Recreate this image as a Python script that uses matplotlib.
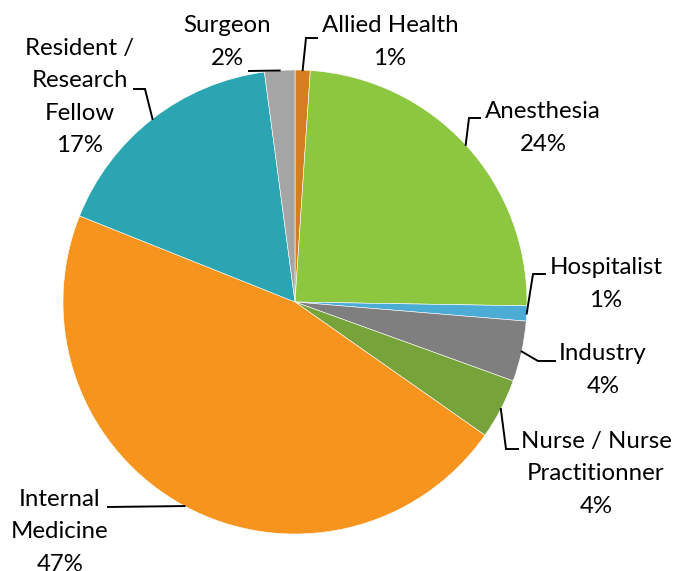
import matplotlib.pyplot as plt
import numpy as np

# respondents by profession (clockwise from 12 o'clock)
categories = ["Allied Health", "Anesthesia", "Hospitalist", "Industry",
              "Nurse / Nurse\nPractitionner", "Internal\nMedicine",
              "Resident /\nResearch\nFellow", "Surgeon"]
counts = [1, 23, 1, 4, 4, 44, 16, 2]
pct_labels = [1, 24, 1, 4, 4, 47, 17, 2]
colors = ["#D47E20", "#8DC63F", "#4BACD6", "#7F7F7F",
          "#77A43A", "#F7941E", "#2AA5B1", "#A5A5A5"]

W, H = 675, 571
CX, CY, R = 295, 302, 232

fig = plt.figure(figsize=(W / 100, H / 100), dpi=100)
ax = fig.add_axes([(CX - R) / W, (H - CY - R) / H, 2 * R / W, 2 * R / H])
wedges, _ = ax.pie(counts, colors=colors, startangle=90, counterclock=False,
                   radius=1, wedgeprops=dict(edgecolor="white", linewidth=0.4))
ax.set_xlim(-1, 1)
ax.set_ylim(-1, 1)
ax.axis("off")


def px(x, y):
    return (x - CX) / R, (CY - y) / R


# label layout in pixels: text centre, then leader elbow / end points
text_pos = [(390, 42), (543, 128), (606, 284), (603, 370),
            (596, 474), (60, 532), (80, 97), (227, 42)]
leaders = [[(306, 38), (317, 38)],
           [(469, 118), (480, 118)],
           [(533, 274), (545, 274)],
           [(538, 361), (555, 361)],
           [(506, 449), (518, 449)],
           [(108, 507)],
           [(145, 89), (134, 89)],
           [(249, 71)]]

for w, name, p, tp, ld in zip(wedges, categories, pct_labels, text_pos, leaders):
    ang = np.deg2rad((w.theta1 + w.theta2) / 2)
    pts = [(np.cos(ang), np.sin(ang))] + [px(*q) for q in ld]
    xs, ys = zip(*pts)
    ax.plot(xs, ys, color="black", lw=1.4, solid_joinstyle="miter", clip_on=False)
    tx, ty = px(*tp)
    ax.text(tx, ty, f"{name}\n{p}%", ha="center", va="center", fontsize=17.3,
            family="Lato", linespacing=1.66, color="black")

fig.savefig("out.png", dpi=100)
